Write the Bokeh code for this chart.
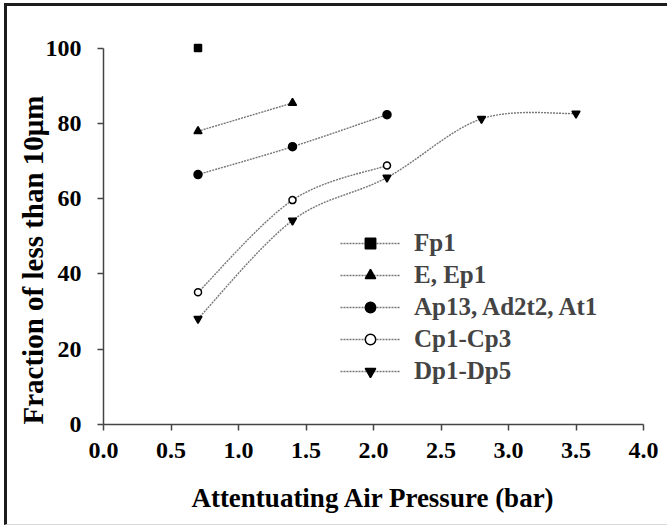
import math
from bokeh.plotting import figure
from bokeh.models import (Range1d, FixedTicker, PrintfTickFormatter, Legend,
                          LegendItem, Title, ColumnDataSource)
from bokeh.embed import file_html
from bokeh.resources import INLINE

# ---- data ----
fp1_x = [0.7]
fp1_y = [100.0]
e_x = [0.7, 1.4]
e_y = [77.9, 85.4]
a_x = [0.7, 1.4, 2.1]
a_y = [66.4, 73.8, 82.3]
c_x = [0.7, 1.4, 2.1]
c_y = [35.1, 59.6, 68.8]
d_x = [0.7, 1.4, 2.1, 2.8, 3.5]
d_y = [28.1, 54.2, 65.6, 81.2, 82.6]

x_ticks = [0.0, 0.5, 1.0, 1.5, 2.0, 2.5, 3.0, 3.5, 4.0]
y_ticks = [0, 20, 40, 60, 80, 100]

FONT = "'Liberation Serif'"
LINE_COLOR = "#777777"
AXIS_COLOR = "#444444"


def smooth_segments(xs, ys):
    """Catmull-Rom style bezier control points (spreadsheet 'smoothed line')."""
    n = len(xs)
    d = dict(x0=[], y0=[], x1=[], y1=[], cx0=[], cy0=[], cx1=[], cy1=[])
    for i in range(n - 1):
        im = i - 1 if i > 0 else i
        ip = i + 2 if i + 2 < n else i + 1
        d["x0"].append(xs[i]); d["y0"].append(ys[i])
        d["x1"].append(xs[i + 1]); d["y1"].append(ys[i + 1])
        d["cx0"].append(xs[i] + (xs[i + 1] - xs[im]) / 6.0)
        d["cy0"].append(ys[i] + (ys[i + 1] - ys[im]) / 6.0)
        d["cx1"].append(xs[i + 1] - (xs[ip] - xs[i]) / 6.0)
        d["cy1"].append(ys[i + 1] - (ys[ip] - ys[i]) / 6.0)
    return ColumnDataSource(d)


p = figure(width=663, height=522, output_backend="svg", toolbar_location=None,
           x_range=Range1d(0, 4), y_range=Range1d(0, 102),
           min_border_left=96, min_border_right=27, min_border_top=34,
           min_border_bottom=104)
p.styles = {"margin-left": "4px", "margin-top": "3px",
            "border-top": "3px solid #1c1c1c", "border-left": "3px solid #1c1c1c",
            "border-bottom": "1px solid #d8d8d8"}
p.outline_line_color = None
p.xgrid.visible = False
p.ygrid.visible = False
p.background_fill_color = "white"
p.border_fill_color = "white"

series = [
    ("Fp1", fp1_x, fp1_y, "square", "black", 7),
    ("E, Ep1", e_x, e_y, "triangle", "black", 8),
    ("Ap13, Ad2t2, At1", a_x, a_y, "circle", "black", 8),
    ("Cp1-Cp3", c_x, c_y, "circle", "white", 7),
    ("Dp1-Dp5", d_x, d_y, "inverted_triangle", "black", 8),
]

items = []
for name, xs, ys, marker, fill, size in series:
    if len(xs) > 1:
        src = smooth_segments(xs, ys)
        lr = p.bezier(x0="x0", y0="y0", x1="x1", y1="y1", cx0="cx0", cy0="cy0",
                      cx1="cx1", cy1="cy1", source=src, line_color=LINE_COLOR,
                      line_width=1.4, line_dash="2 1")
    else:
        lr = p.line(xs, ys, line_color=LINE_COLOR, line_width=1.4,
                    line_dash="2 1")
    sr = p.scatter(xs, ys, marker=marker, size=size, fill_color=fill,
                   line_color="black", line_width=1.5)
    items.append(LegendItem(label=name, renderers=[lr, sr]))

legend = Legend(items=items, location=(237, 39), padding=0, margin=0,
                spacing=4, glyph_width=60, glyph_height=26, label_height=26,
                label_standoff=14, label_text_font=FONT,
                label_text_font_style="bold", label_text_font_size="25px",
                border_line_color=None, background_fill_alpha=0)
p.add_layout(legend)

for ax in (p.xaxis[0], p.yaxis[0]):
    ax.axis_line_color = AXIS_COLOR
    ax.axis_line_width = 1.5
    ax.major_tick_line_color = AXIS_COLOR
    ax.major_tick_line_width = 1.5
    ax.major_tick_in = 0
    ax.major_tick_out = 6
    ax.minor_tick_line_color = None
    ax.major_label_text_font = FONT
    ax.major_label_text_font_style = "bold"
    ax.major_label_text_font_size = "24px"
    ax.major_label_text_color = "black"

p.xaxis.ticker = FixedTicker(ticks=x_ticks)
p.xaxis.formatter = PrintfTickFormatter(format="%.1f")
p.yaxis.ticker = FixedTicker(ticks=y_ticks)
p.yaxis.bounds = (0, 100)
p.xaxis.major_label_standoff = 12
p.yaxis.major_label_standoff = 16

p.xaxis.axis_label = "Attentuating Air Pressure (bar)"
p.xaxis.axis_label_text_font = FONT
p.xaxis.axis_label_text_font_style = "bold"
p.xaxis.axis_label_text_font_size = "27px"
p.xaxis.axis_label_text_color = "black"
p.xaxis.axis_label_standoff = 22

ytitle = Title(text="Fraction of less than 10μm", align="left", offset=0,
               standoff=-14, vertical_align="middle", text_font=FONT,
               text_font_style="bold", text_font_size="29px",
               text_color="black")
p.add_layout(ytitle, "left")

open("out.html", "w").write(file_html(p, INLINE))
